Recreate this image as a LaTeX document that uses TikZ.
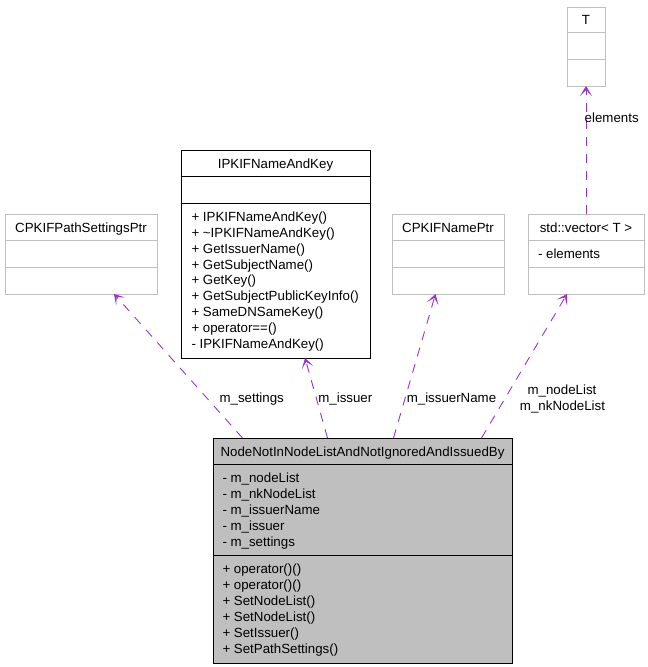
\documentclass[tikz,border=0pt]{standalone}
\usepackage{fontspec}
\setmainfont{Liberation Sans}
\usetikzlibrary{arrows.meta,calc}
\definecolor{edgecol}{HTML}{9A32CD}
\definecolor{boxgray}{HTML}{BFBFBF}
\definecolor{linegray}{HTML}{BFBFBF}
\begin{document}
\begin{tikzpicture}[x=1pt,y=-1pt,
  every node/.style={font=\fontsize{13.3}{16}\selectfont, inner sep=0pt, outer sep=0pt},
  classbox/.style={draw=linegray, line width=1pt, rectangle, anchor=north west},
  mainbox/.style={draw=black, line width=1pt, rectangle, anchor=north west},
  seprule/.style={line width=1pt},
  txt/.style={anchor=center, text height=9.6pt, text depth=0pt},
  mem/.style={anchor=west, text height=9.6pt, text depth=0pt},
  rel/.style={draw=edgecol, line width=0.9pt, dash pattern=on 9pt off 8pt,
    -{Stealth[length=10pt,width=12pt,inset=6pt]}},
  lbl/.style={anchor=center, fill=white}
]
\useasboundingbox (0,0) rectangle (648,667);

% T
\node[classbox, minimum width=38pt, minimum height=79pt] (t) at (567,7) {};
\draw[seprule, linegray] (567,32) -- (605,32) (567,59) -- (605,59);
\node[txt] (tname) at (586,20) {T};

% std::vector<T>
\node[classbox, minimum width=116pt, minimum height=80pt] (vec) at (528,214) {};
\draw[seprule, linegray] (528,240) -- (644,240) (528,267) -- (644,267);
\node[txt] (vecname) at (586,227.5) {std::vector< T >};
\node[mem] (vecm1) at (538,253.5) {- elements};

% CPKIFNamePtr
\node[classbox, minimum width=112pt, minimum height=80pt] (nptr) at (392,214) {};
\draw[seprule, linegray] (392,240) -- (504,240) (392,267) -- (504,267);
\node[txt] (nptrname) at (448,227.5) {CPKIFNamePtr};

% CPKIFPathSettingsPtr
\node[classbox, minimum width=152pt, minimum height=80pt] (set) at (5,214) {};
\draw[seprule, linegray] (5,240) -- (157,240) (5,267) -- (157,267);
\node[txt] (setname) at (81,227.5) {CPKIFPathSettingsPtr};

% IPKIFNameAndKey
\node[mainbox, minimum width=189pt, minimum height=208pt] (ipk) at (181,150) {};
\draw[seprule] (181,176) -- (370,176) (181,203) -- (370,203);
\node[txt] (ipkname) at (275.5,163.5) {IPKIFNameAndKey};
\foreach \s [count=\i from 0] in {+ IPKIFNameAndKey(),+ \textasciitilde IPKIFNameAndKey(),+ GetIssuerName(),+ GetSubjectName(),+ GetKey(),+ GetSubjectPublicKeyInfo(),+ SameDNSameKey(),+ operator==(),- IPKIFNameAndKey()}
  \node[mem] (ipkm\i) at (191.5,216.5+15.9*\i) {\s};

% main class
\node[mainbox, fill=boxgray, minimum width=299pt, minimum height=225pt] (main) at (213,438) {};
\draw[seprule] (213,464) -- (512,464) (213,555) -- (512,555);
\node[txt] (mainname) at (362.5,451.5) {NodeNotInNodeListAndNotIgnoredAndIssuedBy};
\foreach \s [count=\i from 0] in {- m\_nodeList,- m\_nkNodeList,- m\_issuerName,- m\_issuer,- m\_settings}
  \node[mem] (mainA\i) at (222.5,478+16*\i) {\s};
\foreach \s [count=\i from 0] in {+ operator()(),+ operator()(),+ SetNodeList(),+ SetNodeList(),+ SetIssuer(),+ SetPathSettings()}
  \node[mem] (mainM\i) at (222.5,568.5+16*\i) {\s};

% relations
\draw[rel] ([xshift=-120pt]main.north) -- ([xshift=33pt]set.south);
\draw[rel] ([xshift=-35pt]main.north) -- ([xshift=29.5pt]ipk.south);
\draw[rel] ([xshift=31pt]main.north) -- ([xshift=-12.5pt]nptr.south);
\draw[rel] ([xshift=119pt]main.north) -- ([xshift=-19pt]vec.south);
\draw[rel] (vec.north) -- (t.south);

% labels
\node[txt] (l1) at (251.7,397.5) {m\_settings};
\node[txt] (l2) at (345.3,397.5) {m\_issuer};
\node[txt] (l3) at (451.5,397.5) {m\_issuerName};
\node[txt] (l4) at (562,390) {m\_nodeList};
\node[txt] (l5) at (562.5,406) {m\_nkNodeList};
\node[txt] (l6) at (611.7,118) {elements};
\end{tikzpicture}
\end{document}
